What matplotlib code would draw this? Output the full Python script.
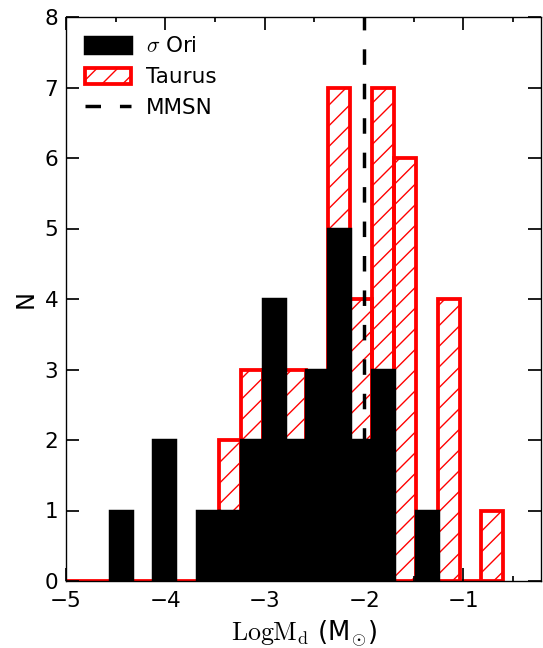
import numpy as np
import matplotlib.pyplot as plt
import matplotlib.patches as mpatches
from matplotlib.lines import Line2D
from matplotlib.ticker import MultipleLocator

plt.rcParams['font.family'] = 'DejaVu Sans'
plt.rcParams['font.size'] = 12.5
plt.rcParams['mathtext.fontset'] = 'cm'
plt.rcParams['hatch.linewidth'] = 0.8

# disk mass histograms (log Msun), shared bins
bin_edges = np.linspace(-5.0, -0.6, 21)
sigma_ori_counts = [0, 0, 1, 0, 2, 0, 1, 1, 2, 4, 2, 3, 5, 2, 3, 0, 1, 0, 0, 0]
taurus_counts = [0, 0, 0, 0, 0, 0, 0, 2, 3, 3, 3, 2, 7, 4, 7, 6, 0, 4, 0, 1]
mmsn_logm = -2.0

bin_centers = 0.5 * (bin_edges[:-1] + bin_edges[1:])

dpi = 124
fig = plt.figure(figsize=(543 / dpi, 648 / dpi), dpi=dpi)
ax = fig.add_axes([66 / 543, 67 / 648, 475 / 543, 564 / 648])

ax.hist(bin_centers, bins=bin_edges, weights=taurus_counts, histtype='bar',
        fill=False, edgecolor='red', hatch='//', linewidth=2.2)
_, _, sig_patches = ax.hist(bin_centers, bins=bin_edges, weights=sigma_ori_counts,
                            histtype='bar', color='black', edgecolor='black',
                            linewidth=2)
# empty bins should not paint over the baseline
for p, n in zip(sig_patches, sigma_ori_counts):
    if n == 0:
        p.set_visible(False)

ax.axvline(mmsn_logm, color='black', linestyle='--', dashes=(4.5, 5.5),
           linewidth=2)

ax.set_xlim(-5, -0.22)
ax.set_ylim(0, 8)
ax.xaxis.set_major_locator(MultipleLocator(1))
ax.xaxis.set_minor_locator(MultipleLocator(0.5))
ax.yaxis.set_major_locator(MultipleLocator(1))
ax.tick_params(which='both', direction='in', top=True, right=True, width=1)
ax.tick_params(which='major', length=7.5)
ax.tick_params(which='minor', length=3)
ax.tick_params(axis='x', pad=6)
ax.tick_params(axis='y', pad=4.5)

ax.set_xlabel(r'$\mathrm{Log M_d}$ (M$_{\odot}$)', fontsize=15)
ax.set_ylabel('N', fontsize=14)

legend_handles = [
    mpatches.Patch(facecolor='black', edgecolor='black', linewidth=2),
    mpatches.Patch(facecolor='none', edgecolor='red', hatch='//', linewidth=2.2),
    Line2D([], [], color='black', linestyle='--', dashes=(4.5, 5.5), linewidth=2),
]
ax.legend(legend_handles, [r'$\sigma$ Ori', 'Taurus', 'MMSN'],
          loc='upper left', frameon=False, handlelength=2.1, handleheight=0.78,
          handletextpad=0.7, labelspacing=0.5)

fig.savefig('out.png', dpi=dpi)
